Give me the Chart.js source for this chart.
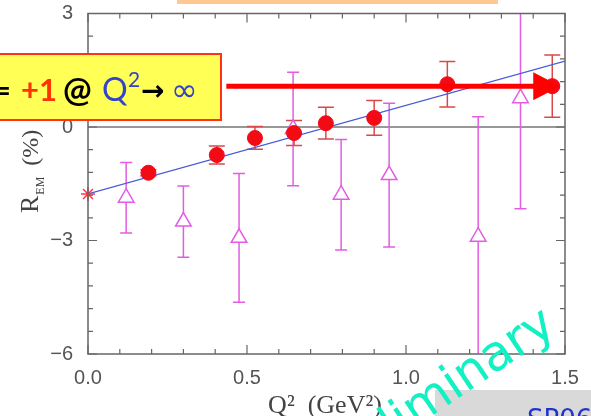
<!DOCTYPE html>
<html>
<head>
<meta charset="utf-8">
<script src="https://cdn.jsdelivr.net/npm/chart.js@4.4.0/dist/chart.umd.min.js"></script>
<style>
  html, body { margin: 0; padding: 0; background: #fff; }
  #wrap { width: 591px; height: 416px; }
</style>
</head>
<body>
<div id="wrap"><canvas id="remChart" width="591" height="416"></canvas></div>
<script>
// red filled circles (new data) with errors
var redX = [0.19, 0.405, 0.525, 0.648, 0.748, 0.90, 1.13, 1.46];
var redY = [-1.21, -0.74, -0.29, -0.16, 0.10, 0.24, 1.13, 1.08];
var redErr = [0.08, 0.24, 0.30, 0.33, 0.42, 0.46, 0.60, 0.82];

// magenta open triangles with errors
var triX = [0.12, 0.30, 0.475, 0.645, 0.796, 0.947, 1.227, 1.36];
var triY = [-1.87, -2.50, -2.93, -0.05, -1.79, -1.27, -2.90, 0.76];
var triErr = [0.93, 0.94, 1.70, 1.50, 1.46, 1.90, 3.17, 2.92];

// real photon point and linear fit
var starX = [0.0];
var starY = [-1.77];
var fitX = [0.0, 1.5];
var fitY = [-1.77, 1.74];

// arrow towards Q2 -> infinity
var arrowX = [0.435, 1.485];
var arrowY = 1.08;

var xTicks = [0.0, 0.5, 1.0, 1.5];
var yTicks = [3, 0, -3, -6];

var RED = '#f20a14';
var MAG = '#e35ce3';

function pts(xs, ys) {
    return xs.map(function (x, i) { return { x: x, y: ys[i] }; });
}

var overlay = {
    id: 'overlay',
    beforeDatasetsDraw: function (chart) {
        var ctx = chart.ctx, a = chart.chartArea;
        var x = chart.scales.x, y = chart.scales.y;
        ctx.save();
        ctx.beginPath();
        ctx.rect(a.left, a.top, a.width, a.height);
        ctx.clip();

        // zero line
        ctx.strokeStyle = '#333';
        ctx.lineWidth = 1;
        ctx.beginPath();
        ctx.moveTo(a.left, y.getPixelForValue(0));
        ctx.lineTo(a.right, y.getPixelForValue(0));
        ctx.stroke();

        function errBars(xs, ys, es, col, cap) {
            ctx.strokeStyle = col;
            ctx.lineWidth = 1.5;
            for (var i = 0; i < xs.length; i++) {
                var px = x.getPixelForValue(xs[i]);
                var top = y.getPixelForValue(ys[i] + es[i]);
                var bot = y.getPixelForValue(ys[i] - es[i]);
                ctx.beginPath();
                ctx.moveTo(px, top); ctx.lineTo(px, bot);
                ctx.moveTo(px - cap, top); ctx.lineTo(px + cap, top);
                ctx.moveTo(px - cap, bot); ctx.lineTo(px + cap, bot);
                ctx.stroke();
            }
        }
        errBars(triX, triY, triErr, MAG, 6);
        errBars(redX, redY, redErr, '#d84a4a', 8);
        ctx.restore();
    },
    afterDraw: function (chart) {
        var ctx = chart.ctx, a = chart.chartArea;
        var x = chart.scales.x, y = chart.scales.y;
        ctx.save();

        // frame with inward ticks on all sides
        ctx.strokeStyle = '#666';
        ctx.lineWidth = 1.5;
        ctx.strokeRect(a.left, a.top, a.width, a.height);
        ctx.lineWidth = 1.2;
        ctx.beginPath();
        for (var k = 0; k <= 15; k++) {
            var px = x.getPixelForValue(k / 10);
            var len = (k % 5 === 0) ? 9 : 5;
            ctx.moveTo(px, a.bottom); ctx.lineTo(px, a.bottom - len);
            ctx.moveTo(px, a.top); ctx.lineTo(px, a.top + len);
        }
        for (var j = 0; j <= 15; j++) {
            var v = 3 - j * 0.6;
            var py = y.getPixelForValue(v);
            var ylen = (j % 5 === 0) ? 9 : 5;
            ctx.moveTo(a.left, py); ctx.lineTo(a.left + ylen, py);
            ctx.moveTo(a.right, py); ctx.lineTo(a.right - ylen, py);
        }
        ctx.stroke();

        // axis titles
        ctx.fillStyle = '#444';
        ctx.textBaseline = 'alphabetic';
        ctx.font = '26px "Liberation Serif"';
        ctx.textAlign = 'center';
        ctx.fillText('Q\u00b2  (GeV\u00b2)', 325, 413);

        ctx.save();
        ctx.translate(38, 213);
        ctx.rotate(-Math.PI / 2);
        ctx.textAlign = 'left';
        ctx.font = '26px "Liberation Serif"';
        ctx.fillText('R', 0, 0);
        var rw = ctx.measureText('R').width;
        ctx.font = '12px "Liberation Serif"';
        ctx.fillText('EM', rw + 1, 6);
        var ew = ctx.measureText('EM').width;
        ctx.font = '24px "Liberation Serif"';
        ctx.fillText('(%)', rw + ew + 12, 0);
        ctx.restore();

        // peach strip at the top
        ctx.fillStyle = '#ffc892';
        ctx.fillRect(177, 0, 321, 4);

        // red arrow
        var ay = y.getPixelForValue(arrowY);
        var ax0 = x.getPixelForValue(arrowX[0]);
        var ax1 = x.getPixelForValue(arrowX[1]);
        ctx.strokeStyle = '#ff0000';
        ctx.fillStyle = '#ff0000';
        ctx.lineWidth = 5;
        ctx.beginPath();
        ctx.moveTo(ax0, ay); ctx.lineTo(ax1 - 20, ay);
        ctx.stroke();
        ctx.beginPath();
        ctx.moveTo(ax1 - 27, ay - 14);
        ctx.lineTo(ax1, ay);
        ctx.lineTo(ax1 - 27, ay + 14);
        ctx.closePath();
        ctx.fill();

        // yellow label box
        ctx.fillStyle = '#ffff55';
        ctx.fillRect(-5, 54, 226, 66);
        ctx.strokeStyle = '#ff3311';
        ctx.lineWidth = 2;
        ctx.strokeRect(-5, 54, 226, 66);
        var parts = [
            ['=', '#000', 11, 'bold 30px Lato', 101, 'right'],
            ['+1', '#ff3300', 21, 'bold 31px Lato', 101, 'left'],
            ['@', '#000', 63, 'bold 34px Lato', 102, 'left'],
            ['Q', '#3344cc', 102, '32px Lato', 101, 'left'],
            ['2', '#3344cc', 128, '21px Lato', 87, 'left'],
            ['\u2192', '#000', 141, 'bold 28px "DejaVu Sans"', 100, 'left'],
            ['\u221e', '#3344cc', 171, '32px "DejaVu Sans"', 101, 'left']
        ];
        for (var p = 0; p < parts.length; p++) {
            ctx.fillStyle = parts[p][1];
            ctx.font = parts[p][3];
            ctx.textAlign = parts[p][5];
            ctx.fillText(parts[p][0], parts[p][2], parts[p][4]);
        }
        ctx.textAlign = 'left';

        // grey box bottom right
        ctx.fillStyle = '#d9d9d9';
        ctx.fillRect(435, 390, 160, 30);
        ctx.fillStyle = '#2233cc';
        ctx.font = '26px "DejaVu Sans"';
        ctx.fillText('SP06', 527, 428);

        // watermark
        ctx.save();
        ctx.translate(558, 331);
        ctx.rotate(-34 * Math.PI / 180);
        ctx.fillStyle = '#12f0c4';
        ctx.textAlign = 'right';
        ctx.font = '49px "DejaVu Sans"';
        ctx.fillText('Preliminary', 0, 0);
        ctx.restore();

        ctx.restore();
    }
};

var ctx = document.getElementById('remChart').getContext('2d');
new Chart(ctx, {
    type: 'scatter',
    data: {
        datasets: [{
            label: 'fit',
            type: 'line',
            data: pts(fitX, fitY),
            borderColor: '#4a5ad8',
            borderWidth: 1.2,
            pointRadius: 0,
            showLine: true,
            order: 4
        }, {
            label: 'old',
            data: pts(triX, triY),
            pointStyle: 'triangle',
            pointRadius: 9,
            borderColor: MAG,
            backgroundColor: '#ffffff',
            borderWidth: 1.5,
            order: 3
        }, {
            label: 'photon',
            data: pts(starX, starY),
            pointStyle: 'star',
            pointRadius: 7,
            borderColor: '#ff3344',
            borderWidth: 1.5,
            clip: false,
            order: 2
        }, {
            label: 'new',
            data: pts(redX, redY),
            pointStyle: 'circle',
            pointRadius: 7.5,
            backgroundColor: RED,
            borderColor: RED,
            borderWidth: 1,
            order: 1
        }]
    },
    options: {
        responsive: false,
        animation: false,
        devicePixelRatio: 1,
        layout: { padding: { top: 13.5, right: 26, left: 0, bottom: 0 } },
        plugins: { legend: { display: false }, tooltip: { enabled: false } },
        scales: {
            x: {
                type: 'linear',
                min: 0,
                max: 1.5,
                afterBuildTicks: function (s) { s.ticks = xTicks.map(function (v) { return { value: v }; }); },
                afterFit: function (s) { s.height = 62; s.paddingLeft = 0; s.paddingRight = 0; },
                grid: { display: false, drawTicks: false },
                border: { display: false },
                ticks: {
                    padding: 12,
                    color: '#555',
                    font: { family: 'Liberation Sans', size: 20 },
                    callback: function (v) { return Number(v).toFixed(1); }
                }
            },
            y: {
                type: 'linear',
                min: -6,
                max: 3,
                afterBuildTicks: function (s) { s.ticks = yTicks.map(function (v) { return { value: v }; }); },
                afterFit: function (s) { s.width = 88; s.paddingTop = 0; s.paddingBottom = 0; },
                grid: { display: false, drawTicks: false },
                border: { display: false },
                ticks: {
                    padding: 15,
                    color: '#555',
                    font: { family: 'Liberation Sans', size: 20 },
                    callback: function (v) { return String(v).replace('-', '\u2212'); }
                }
            }
        }
    },
    plugins: [overlay]
});
</script>
</body>
</html>
